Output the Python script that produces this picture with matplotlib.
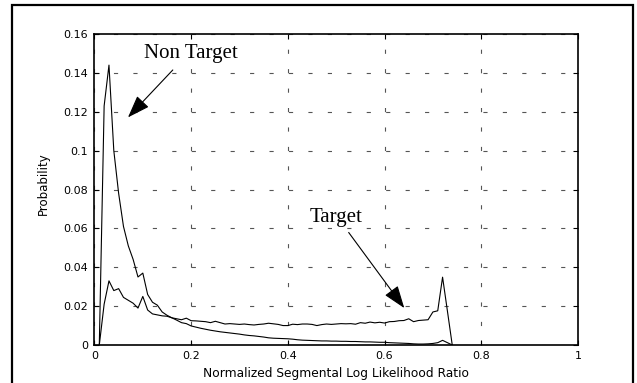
import matplotlib
matplotlib.use("Agg")
import matplotlib.pyplot as plt
from matplotlib.patches import Rectangle
import numpy as np

plt.rcParams['lines.scale_dashes'] = False

# ---- data ----
llr = [round(0.01 * k, 2) for k in range(1, 75)]
non_target = [0.0, 0.123, 0.144, 0.100, 0.078, 0.061, 0.051, 0.044, 0.035, 0.037,
              0.026, 0.022, 0.0205, 0.017, 0.0153, 0.014, 0.0128, 0.0115, 0.011, 0.0098,
              0.0092, 0.0086, 0.0081, 0.0076, 0.0072, 0.0068, 0.0065, 0.0062, 0.0059, 0.0056,
              0.0052, 0.0049, 0.0047, 0.0044, 0.0041, 0.0037, 0.0035, 0.0034, 0.0033, 0.0032,
              0.0030, 0.0027, 0.0025, 0.0024, 0.0023, 0.0022, 0.0021, 0.0021, 0.0020, 0.0020,
              0.0019, 0.0019, 0.0018, 0.0018, 0.0017, 0.0016, 0.0016, 0.0015, 0.0014, 0.0014,
              0.0012, 0.0011, 0.0010, 0.0009, 0.0008, 0.0006, 0.0005, 0.0005, 0.0006, 0.0008,
              0.0012, 0.0024, 0.0012, 0.0]
target = [0.0, 0.021, 0.033, 0.028, 0.029, 0.0245, 0.023, 0.0215, 0.019, 0.025,
          0.018, 0.016, 0.0155, 0.015, 0.0148, 0.014, 0.0135, 0.013, 0.0138, 0.0125,
          0.0124, 0.0122, 0.012, 0.0115, 0.0122, 0.0115, 0.0108, 0.011, 0.0108, 0.0106,
          0.0108, 0.0105, 0.0103, 0.0106, 0.0108, 0.0112, 0.0109, 0.0106, 0.0100, 0.0100,
          0.0107, 0.0105, 0.0108, 0.0108, 0.0106, 0.0100, 0.0105, 0.0108, 0.0106, 0.0108,
          0.0110, 0.0109, 0.0110, 0.0107, 0.0115, 0.0112, 0.0118, 0.0114, 0.0117, 0.0113,
          0.0120, 0.0121, 0.0125, 0.0126, 0.0135, 0.0120, 0.0126, 0.0128, 0.0130, 0.0170,
          0.0176, 0.0349, 0.0175, 0.0]
xticks = [0, 0.2, 0.4, 0.6, 0.8, 1.0]
xticklabels = ["0", "0.2", "0.4", "0.6", "0.8", "1"]
yticks = [0, 0.02, 0.04, 0.06, 0.08, 0.10, 0.12, 0.14, 0.16]
yticklabels = ["0", "0.02", "0.04", "0.06", "0.08", "0.1", "0.12", "0.14", "0.16"]

fig = plt.figure(figsize=(6.37, 3.83), dpi=100)
fig.patch.set_facecolor('white')
ax = fig.add_axes([0.1483, 0.0992, 0.759, 0.812])

ax.plot(llr, non_target, color='black', lw=0.8)
ax.plot(llr, target, color='black', lw=0.8)

ax.set_xlim(0, 1)
ax.set_ylim(0, 0.16)
ax.set_xticks(xticks)
ax.set_xticklabels(xticklabels)
ax.set_yticks(yticks)
ax.set_yticklabels(yticklabels)

ax.grid(True, color='#555555', lw=0.8, linestyle=(0, (3, 11)))
ax.tick_params(direction='in', length=3.5, width=0.8, top=True, right=True,
               labelsize=8, pad=4.5)
for lab in ax.get_xticklabels() + ax.get_yticklabels():
    lab.set_family('DejaVu Sans')
for s in ax.spines.values():
    s.set_linewidth(1.2)

ax.set_xlabel("Normalized Segmental Log Likelihood Ratio", fontsize=8.8, family='DejaVu Sans')
ax.set_ylabel("Probability", fontsize=8.5, family='DejaVu Sans')
ax.xaxis.set_label_coords(0.5, -0.07)
ax.yaxis.set_label_coords(-0.092, 0.519)

# annotations
arrow_style = '-|>,head_length=1.4,head_width=0.5'
ax.text(0.1024, 0.1475, "Non Target", family='Liberation Serif', fontsize=15, va='baseline')
ax.annotate('', xy=(0.0693, 0.1171), xytext=(0.162, 0.1415),
            arrowprops=dict(arrowstyle=arrow_style, color='black',
                            lw=0.8, mutation_scale=10, shrinkA=0, shrinkB=0))
ax.text(0.4457, 0.0631, "Target", family='Liberation Serif', fontsize=15, va='baseline')
ax.annotate('', xy=(0.6408, 0.019), xytext=(0.5258, 0.0579),
            arrowprops=dict(arrowstyle=arrow_style, color='black',
                            lw=0.8, mutation_scale=10, shrinkA=0, shrinkB=0))

# outer frame
W, H = 637, 383
frame = Rectangle((12 / W, -0.02), (633 - 12) / W, (H - 5) / H + 0.02,
                  transform=fig.transFigure, fill=False, lw=1.6, edgecolor='black',
                  clip_on=False)
fig.patches.append(frame)

fig.savefig("out.png", dpi=100)
